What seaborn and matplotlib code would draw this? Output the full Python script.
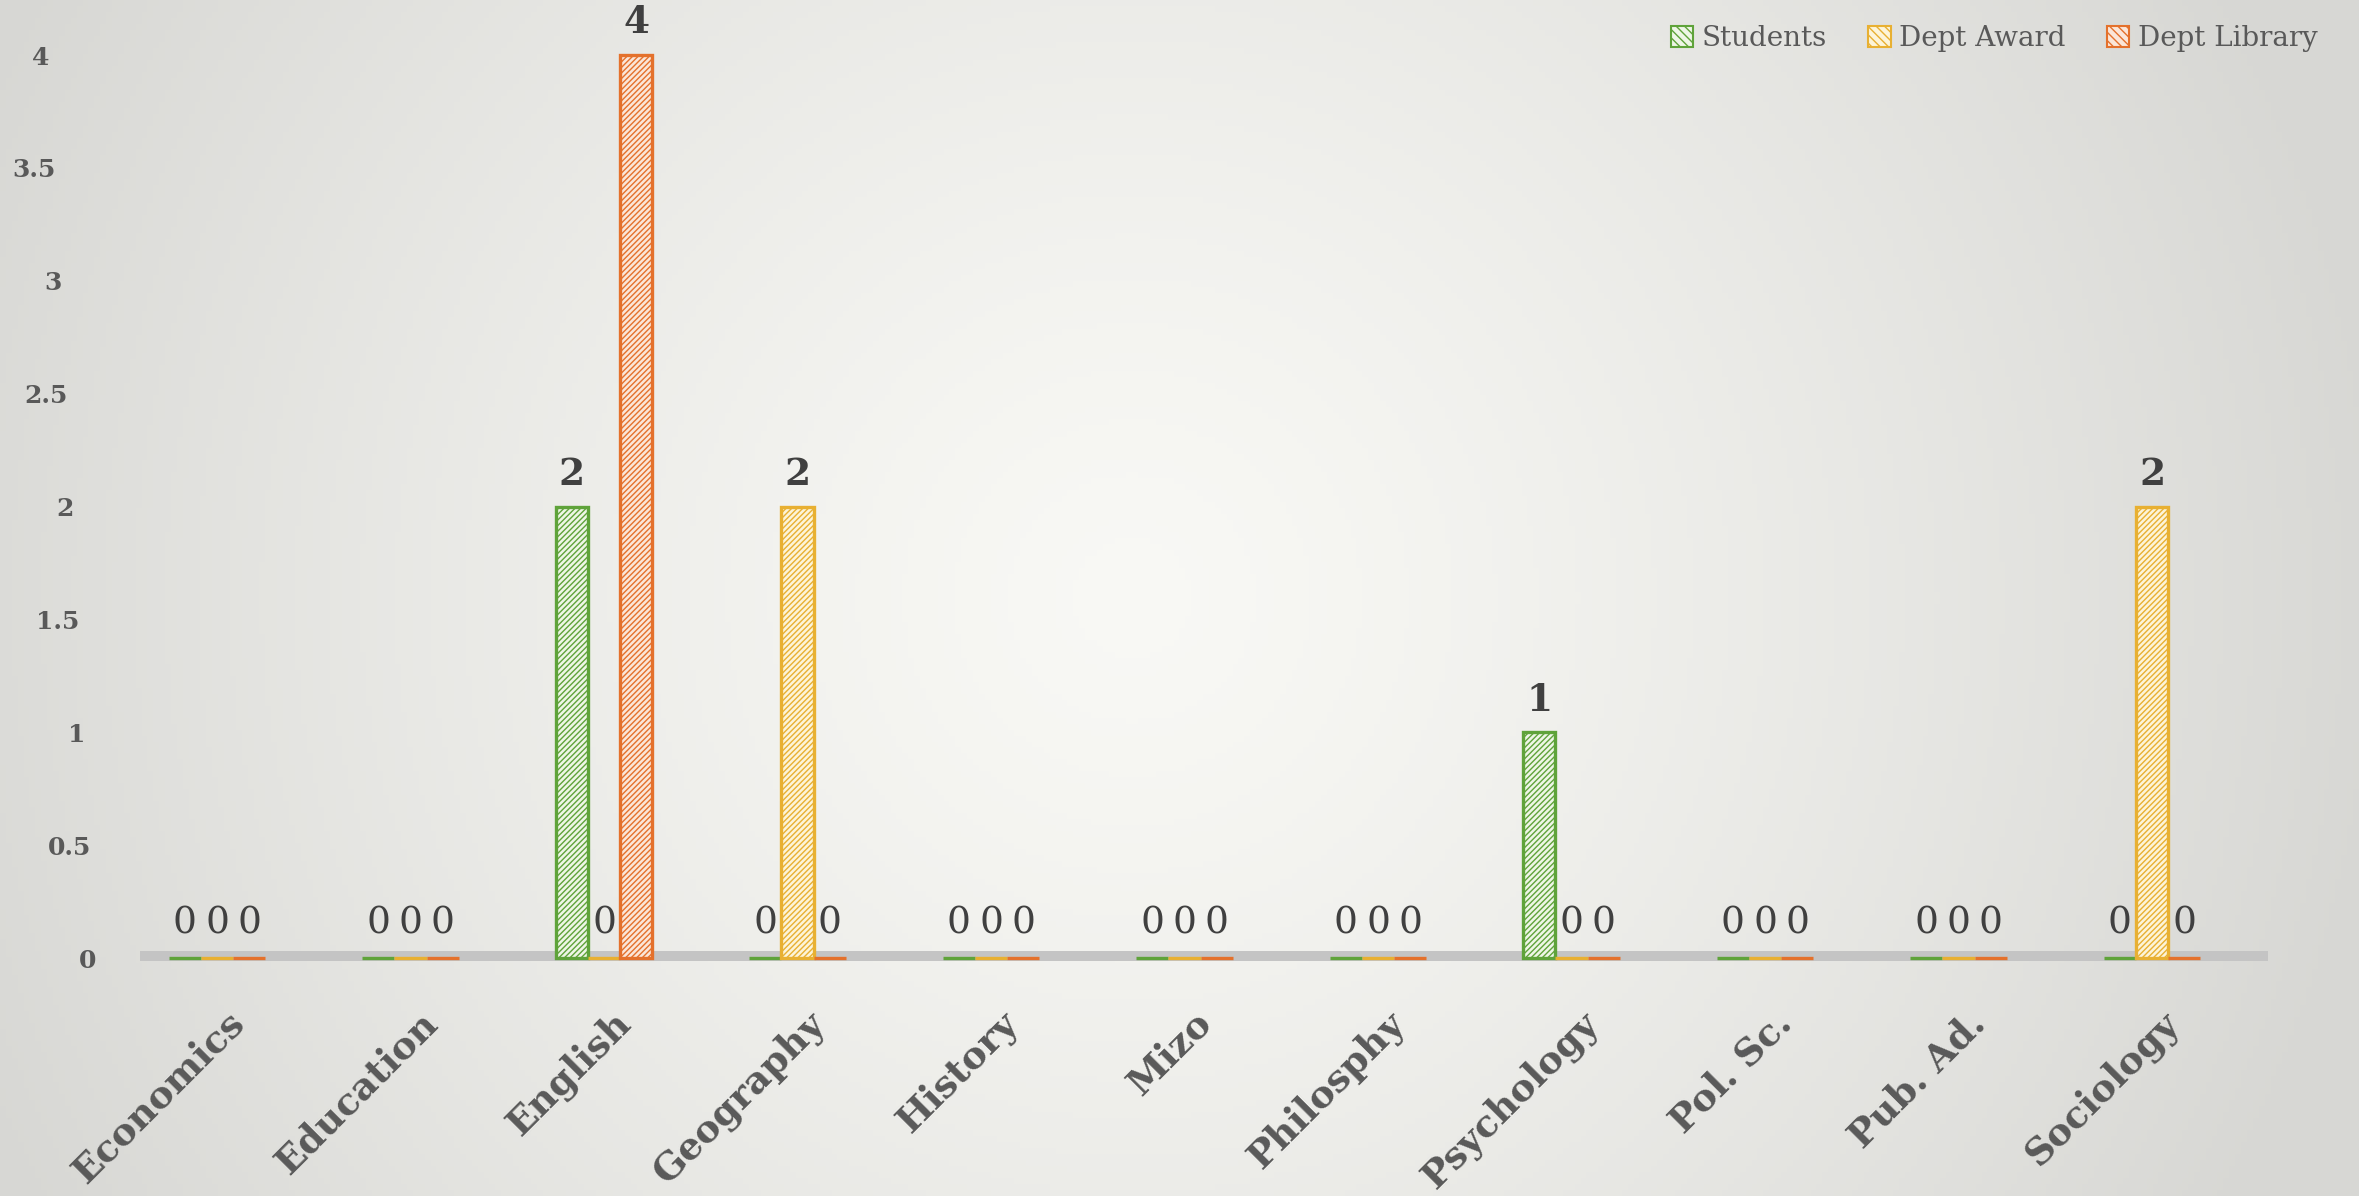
import numpy as np
import pandas as pd
import matplotlib.pyplot as plt
import seaborn as sns
from matplotlib.patches import Patch
from matplotlib.transforms import ScaledTranslation

# Chart data
departments = ["Economics", "Education", "English", "Geography", "History", "Mizo",
               "Philosphy", "Psychology", "Pol. Sc.", "Pub. Ad.", "Sociology"]
students = [0, 0, 2, 0, 0, 0, 0, 1, 0, 0, 0]
dept_award = [0, 0, 0, 2, 0, 0, 0, 0, 0, 0, 2]
dept_library = [0, 0, 4, 0, 0, 0, 0, 0, 0, 0, 0]
series_names = ["Students", "Dept Award", "Dept Library"]
y_ticks = [0, 0.5, 1, 1.5, 2, 2.5, 3, 3.5, 4]

edge_colors = ["#5fa33a", "#e8b032", "#e4712c"]
face_colors = ["#eef6e6", "#fdf4d8", "#fbe6d8"]

df = pd.DataFrame({"Department": departments, "Students": students,
                   "Dept Award": dept_award, "Dept Library": dept_library})
long_df = df.melt(id_vars="Department", var_name="Series", value_name="Count")

sns.set_theme(style="white")
plt.rcParams["font.family"] = ["DejaVu Serif"]
plt.rcParams["hatch.linewidth"] = 1.0

fig = plt.figure(figsize=(23.59, 11.96), dpi=100)

# Radial background gradient
bg = fig.add_axes([0, 0, 1, 1], zorder=-10)
gx, gy = np.meshgrid(np.linspace(0, 1, 400), np.linspace(0, 1, 200))
r = np.sqrt(((gx - 0.48) * 1.97) ** 2 + (gy - 0.5) ** 2)
shade = 0.975 - 0.13 * np.clip(r / 1.05, 0, 1) ** 1.3
bg.imshow(np.dstack([shade, shade, shade * 0.985]), aspect="auto", extent=[0, 1, 0, 1])
bg.axis("off")

ax = fig.add_axes([0.051, 0.195, 0.9105, 0.775])
ax.set_facecolor("none")

sns.barplot(data=long_df, x="Department", y="Count", hue="Series",
            hue_order=series_names, width=0.5, legend=False, ax=ax)

for cont, ec, fc in zip(ax.containers, edge_colors, face_colors):
    for bar in cont:
        bar.set_facecolor(fc)
        bar.set_edgecolor(ec)
        bar.set_hatch("//////")
        bar.set_linewidth(2.4)
        bar.set_zorder(3)
    texts = ax.bar_label(cont, fmt="%g", padding=10, fontsize=27, color="#404040")
    for t, bar in zip(texts, cont):
        if bar.get_height() > 0:
            t.set_fontweight("bold")
        else:
            t.xyann = (0, 12)

# Grey floor strip
ax.axhspan(-0.012, 0.03, xmin=0.009, xmax=1.0, color="#c4c4c4", zorder=1, lw=0)

ax.set_xlim(-0.5, 10.6)
ax.set_ylim(-0.02, 4.085)
ax.set_yticks(y_ticks)
ax.set_yticklabels([f"{v:g}" for v in y_ticks])
ax.set_xlabel("")
ax.set_ylabel("")
for s in ax.spines.values():
    s.set_visible(False)

ax.tick_params(axis="y", length=0, pad=17, labelsize=18, labelcolor="#595959")
ax.tick_params(axis="x", length=0, pad=30, labelsize=27, labelcolor="#595959")
for lbl, v in zip(ax.get_yticklabels(), y_ticks):
    lbl.set_fontweight("bold")
    # staggered labels, like the perspective wall in the original
    lbl.set_transform(lbl.get_transform() + ScaledTranslation(-0.1175 * v, 0, fig.dpi_scale_trans))
for lbl in ax.get_xticklabels():
    lbl.set_fontweight("bold")
    lbl.set_rotation(45)
    lbl.set_ha("right")
    lbl.set_rotation_mode("anchor")
    lbl.set_transform(lbl.get_transform() + ScaledTranslation(0.08, 0, fig.dpi_scale_trans))

handles = [Patch(facecolor=fc, edgecolor=ec, hatch="\\\\\\\\", linewidth=1.5)
           for fc, ec in zip(face_colors, edge_colors)]
fig.legend(handles, series_names, loc="upper right", bbox_to_anchor=(0.993, 1.0),
           ncol=3, frameon=False, fontsize=20, handlelength=0.8, handleheight=0.8,
           handletextpad=0.3, columnspacing=1.5, labelcolor="#595959")

fig.savefig("out.png", dpi=100)
